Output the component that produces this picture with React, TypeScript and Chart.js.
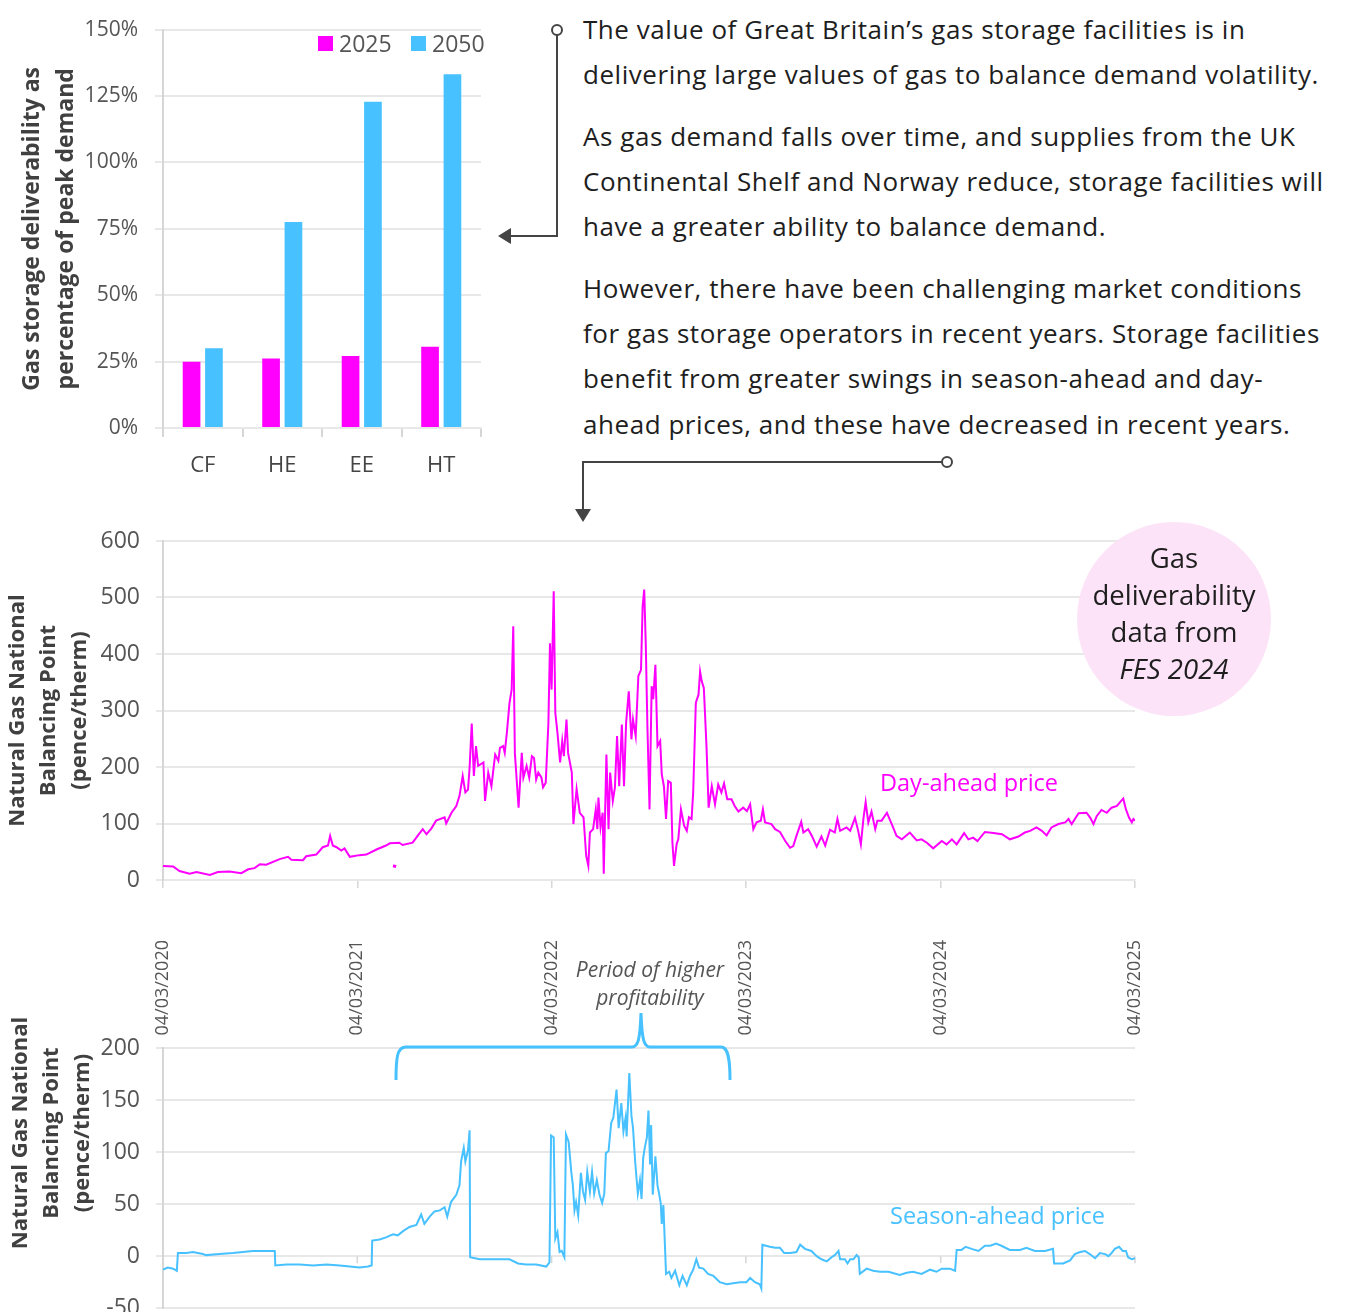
import React, { useEffect, useRef } from "react";
import { Chart, registerables } from "chart.js";

Chart.register(...registerables);

const FONT = '"Open Sans", "DejaVu Sans", sans-serif';
const MAGENTA = "#FF00FF";
const BLUE = "#47C1FF";
const GRID = "#e8e8e8";
const AXIS = "#d6d6d6";
const TICK_TEXT = "#555555";
const TITLE_TEXT = "#404040";
const BODY_TEXT = "#1e1e1e";
const CONNECTOR = "#444444";

Chart.defaults.font.family = FONT;

// ---------- Bar chart data ----------
const barCategories = ["CF", "HE", "EE", "HT"];
const barSeriesLabels = ["2025", "2050"];
const deliverability2025 = [24.9, 26.2, 27.1, 30.6];
const deliverability2050 = [30.0, 77.6, 122.8, 133.2];

// ---------- Time axis (days since 04/03/2020) ----------
const xTickDays = [0, 365, 730, 1095, 1461, 1826];
const xTickLabels = ["04/03/2020", "04/03/2021", "04/03/2022", "04/03/2023", "04/03/2024", "04/03/2025"];

// ---------- Day-ahead price (pence/therm) ----------
const dayAheadDays = [
  0, 19, 31, 50, 63, 88, 103, 125, 147, 160, 172, 182, 194, 219, 235, 241, 263, 269, 288, 300,
  310, 314, 319, 326, 335, 341, 351, 369, 382, 401, 419, 426, 444, 450, 469, 479, 488, 495, 504, 513,
  529, 532, 542, 551, 557, 563, 568, 573, 576, 580, 584, 588, 592,
  602, 605, 611, 617, 624, 630, 633, 639, 642, 646, 651, 655, 658, 661, 668, 674, 677, 683, 688, 693,
  697, 701, 705, 711, 714, 719, 724, 727, 730, 734, 737, 741, 746, 750, 753, 758, 761, 768, 771, 777,
  783, 790, 795, 799, 802, 808, 813, 816, 818, 822, 826, 828, 833, 837, 840, 845, 849, 853, 857, 862,
  866, 870, 875, 880, 883, 888, 893, 898, 901, 904, 907, 910, 914, 918, 921, 925, 929, 934, 937, 941,
  945, 949, 954, 957, 960, 965, 968, 973, 979, 984, 988, 993, 996, 1001, 1006, 1009, 1012, 1016, 1021, 1025,
  1031, 1037, 1043, 1049, 1054, 1060, 1068, 1074, 1081,
  1090, 1097, 1103, 1109, 1115, 1123, 1127, 1131, 1143, 1150, 1159, 1169, 1178, 1184, 1190, 1199, 1203, 1212, 1219, 1228,
  1237, 1244, 1253, 1262, 1267, 1272, 1284, 1291, 1300, 1306, 1311, 1316, 1320, 1325, 1331, 1338, 1342, 1350, 1360, 1369,
  1378, 1388, 1403, 1416, 1425, 1435, 1447, 1463, 1472, 1482, 1491, 1505, 1513, 1522, 1530, 1544, 1560, 1576, 1591, 1607,
  1619, 1629, 1641, 1651, 1660, 1669, 1682, 1695, 1701, 1707, 1720, 1735, 1742, 1748, 1754, 1763, 1773, 1782, 1792, 1800,
  1804, 1809, 1815, 1820, 1823, 1826,
];
const dayAheadPrice = [
  25, 24, 16, 11, 14, 9, 14, 15, 12, 19, 21, 28, 27, 37, 41, 36, 35, 42, 45, 58,
  61, 78, 61, 58, 52, 56, 41, 44, 45, 54, 61, 65, 66, 62, 66, 79, 90, 81, 91, 105,
  111, 100, 119, 131, 149, 184, 155, 160, 199, 277, 184, 237, 202,
  208, 140, 190, 166, 222, 211, 234, 237, 225, 261, 314, 337, 449, 225, 128, 225, 181, 202, 181, 219,
  216, 178, 190, 181, 164, 172, 278, 419, 337, 511, 296, 261, 208, 246, 219, 284, 225, 190, 99, 161,
  119, 111, 43, 25, 84, 90, 125, 90, 146, 93, 119, 11, 222, 90, 190, 140, 164, 255, 166, 275,
  166, 278, 334, 249, 284, 255, 361, 372, 484, 514, 414, 272, 125, 343, 320, 381, 237, 246, 187, 166,
  108, 175, 172, 66, 25, 64, 72, 125, 96, 87, 111, 108, 155, 314, 328, 369, 352, 340, 237, 128,
  166, 134, 169, 155, 171, 143, 143, 131, 121,
  128, 122, 134, 90, 102, 105, 125, 102, 99, 90, 85, 69, 57, 60, 78, 103, 84, 90, 78, 59,
  77, 61, 89, 84, 108, 87, 93, 87, 110, 87, 63, 110, 138, 102, 121, 90, 105, 105, 119, 99,
  78, 72, 84, 70, 72, 66, 56, 69, 63, 72, 63, 83, 72, 75, 69, 85, 83, 81, 72, 77,
  84, 87, 93, 87, 79, 93, 99, 102, 108, 99, 118, 119, 110, 99, 113, 124, 119, 128, 131, 140,
  144, 125, 110, 102, 108, 105,
];
const dayAheadOutlierDays = [432, 438];
const dayAheadOutlierPrice = [25, 24];

// ---------- Season-ahead price (pence/therm) ----------
const seasonAheadDays = [
  0, 9, 19, 26, 28, 44, 56, 75, 81, 106, 131, 150, 169, 188, 210, 211, 232, 257, 282, 307,
  332, 351, 369, 385, 392, 393, 407, 419, 432, 441, 451, 463, 476, 485, 491, 501, 510, 520, 529, 534,
  541, 551, 557, 560, 565, 568, 573, 576, 577, 595, 620, 651, 667, 682, 701, 720, 726, 729, 734, 737,
  741, 745, 749, 754, 757, 762, 767, 770, 773, 776, 780, 785, 789, 793, 797, 802, 806, 810, 815, 820,
  825, 829, 832, 837, 842, 846, 852, 856, 861, 865, 869, 871, 876, 880, 883, 887, 892, 896, 899,
  902, 905, 909, 912, 915, 917, 920, 922, 925, 929, 932, 935, 937, 940, 945, 951, 955, 962, 970, 976,
  984, 990, 996, 1002, 1007, 1015, 1024, 1034, 1046, 1059, 1071, 1084, 1096, 1103, 1112, 1121, 1124, 1126, 1140, 1150,
  1159, 1167, 1178, 1190, 1197, 1206, 1218, 1228, 1237, 1247, 1256, 1262, 1269, 1272, 1281, 1286, 1291, 1297, 1303, 1307,
  1309, 1322, 1334, 1347, 1363, 1384, 1397, 1409, 1425, 1441, 1453, 1463, 1478, 1488, 1491, 1500, 1508, 1519, 1532, 1544,
  1554, 1565, 1575, 1591, 1610, 1622, 1638, 1657, 1672, 1674, 1691, 1704, 1713, 1723, 1732, 1741, 1751, 1760, 1770, 1776,
  1782, 1788, 1796, 1803, 1809, 1813, 1820, 1826,
];
const seasonAheadPrice = [
  -13, -11, -12, -14, 3, 3, 4, 2, 1, 2, 3, 4, 5, 5, 5, -9, -8, -8, -9, -8,
  -9, -10, -11, -10, -9, 15, 16, 18, 21, 20, 24, 28, 30, 40, 31, 38, 43, 44, 47, 38,
  52, 59, 68, 91, 104, 91, 102, 121, -1, -3, -3, -3, -7, -8, -8, -10, -6, 116, 114, 17,
  23, 4, 5, -1, 117, 110, 81, 68, 44, 52, 39, 80, 62, 54, 81, 62, 81, 60, 73, 59,
  51, 60, 99, 101, 128, 133, 160, 123, 147, 120, 133, 115, 176, 135, 123, 91, 60, 73, 55,
  94, 104, 114, 140, 88, 126, 59, 73, 96, 68, 60, 51, 31, 49, -17, -15, -21, -14, -28, -19,
  -28, -19, -13, -3, -11, -12, -17, -19, -25, -27, -26, -25, -25, -21, -25, -27, -31, 11, 9, 8,
  8, 3, 3, 4, 11, 7, 5, 0, -3, -5, -1, 1, 5, -3, -3, -7, -3, -3, 1, -1,
  -17, -12, -14, -15, -15, -18, -16, -15, -17, -13, -15, -12, -12, -14, 6, 6, 9, 7, 5, 10,
  10, 12, 10, 6, 6, 8, 5, 5, 7, -7, -7, -4, 2, 4, 5, 2, -2, 3, 2, 0,
  3, 7, 9, 5, 5, -1, -3, -2,
];

const toPoints = (xs: number[], ys: number[]) => xs.map((x, i) => ({ x, y: ys[i] }));

const timeAxisTicks = (scale: any) => {
  scale.ticks = xTickDays.map((v) => ({ value: v }));
};

// small tick marks on the zero line of the season-ahead chart, at the yearly ticks
const zeroLineTicks = {
  id: "zeroLineTicks",
  beforeDatasetsDraw(chart: any) {
    const { ctx, scales } = chart;
    const x = scales.x;
    const y = scales.y;
    const y0 = y.getPixelForValue(0);
    ctx.save();
    ctx.strokeStyle = AXIS;
    ctx.lineWidth = 1.5;
    xTickDays.forEach((d) => {
      const px = x.getPixelForValue(d);
      ctx.beginPath();
      ctx.moveTo(px, y0);
      ctx.lineTo(px, y0 + 7);
      ctx.stroke();
    });
    ctx.restore();
  },
};

function makeBarConfig(): any {
  return {
    type: "bar",
    data: {
      labels: barCategories,
      datasets: [
        { label: barSeriesLabels[0], data: deliverability2025, backgroundColor: MAGENTA, barPercentage: 0.79, categoryPercentage: 0.563 },
        { label: barSeriesLabels[1], data: deliverability2050, backgroundColor: BLUE, barPercentage: 0.79, categoryPercentage: 0.563 },
      ],
    },
    options: {
      responsive: false,
      animation: false,
      layout: { padding: { left: 0, top: 24, right: 19, bottom: 0 } },
      plugins: { legend: { display: false }, tooltip: { enabled: false } },
      scales: {
        x: {
          grid: { display: true, drawOnChartArea: false, drawTicks: true, tickLength: 9, color: AXIS, lineWidth: 2, offset: true },
          border: { display: true, color: GRID, width: 2 },
          ticks: { font: { family: FONT, size: 22 }, color: "#444", padding: 16 },
          afterFit: (s: any) => { s.height = 62; },
        },
        y: {
          min: 0,
          max: 150,
          ticks: { stepSize: 25, callback: (v: any) => v + "%", font: { family: FONT, size: 21 }, color: TICK_TEXT, padding: 17 },
          grid: { color: GRID, lineWidth: 2, tickLength: 8 },
          border: { display: true, color: AXIS, width: 2 },
          title: {
            display: true,
            text: ["Gas storage deliverability as", "percentage of peak demand"],
            font: { family: FONT, size: 23, weight: "bold", lineHeight: 1.5 },
            color: TITLE_TEXT,
            padding: { top: 15, bottom: 0 },
          },
          afterFit: (s: any) => { s.width = 163; },
        },
      },
    },
  };
}

function makeDayAheadConfig(): any {
  return {
    type: "line",
    data: {
      datasets: [
        { label: "Day-ahead price", data: toPoints(dayAheadDays, dayAheadPrice), borderColor: MAGENTA, borderWidth: 2, pointRadius: 0, tension: 0 },
        { label: "Day-ahead price (isolated)", data: toPoints(dayAheadOutlierDays, dayAheadOutlierPrice), borderColor: MAGENTA, borderWidth: 3, pointRadius: 0, tension: 0 },
      ],
    },
    options: {
      responsive: false,
      animation: false,
      layout: { padding: { left: 0, top: 41, right: 215, bottom: 0 } },
      plugins: { legend: { display: false }, tooltip: { enabled: false } },
      scales: {
        x: {
          type: "linear",
          min: 0,
          max: 1826,
          afterBuildTicks: timeAxisTicks,
          ticks: {
            autoSkip: false,
            minRotation: 90,
            maxRotation: 90,
            callback: (_v: any, i: number) => xTickLabels[i],
            font: { family: FONT, size: 18 },
            color: TICK_TEXT,
            padding: 52,
          },
          grid: { display: true, drawOnChartArea: false, drawTicks: true, tickLength: 8, color: AXIS, lineWidth: 1.5 },
          border: { display: true, color: GRID, width: 2 },
          afterFit: (s: any) => { s.height = 165; },
        },
        y: {
          min: 0,
          max: 600,
          ticks: { stepSize: 100, font: { family: FONT, size: 23 }, color: TICK_TEXT, padding: 16 },
          grid: { color: GRID, lineWidth: 2, tickLength: 7 },
          border: { display: true, color: AXIS, width: 2 },
          title: {
            display: true,
            text: ["Natural Gas National", "Balancing Point", "(pence/therm)"],
            font: { family: FONT, size: 22, weight: "bold", lineHeight: 1.41 },
            color: TITLE_TEXT,
            padding: { top: 2.5, bottom: 0 },
          },
          afterFit: (s: any) => { s.width = 163; },
        },
      },
    },
  };
}

function makeSeasonAheadConfig(): any {
  return {
    type: "line",
    data: {
      datasets: [
        { label: "Season-ahead price", data: toPoints(seasonAheadDays, seasonAheadPrice), borderColor: BLUE, borderWidth: 2, pointRadius: 0, tension: 0 },
      ],
    },
    plugins: [zeroLineTicks],
    options: {
      responsive: false,
      animation: false,
      layout: { padding: { left: 0, top: 48, right: 215, bottom: 12 } },
      plugins: { legend: { display: false }, tooltip: { enabled: false } },
      scales: {
        x: { type: "linear", min: 0, max: 1826, display: false },
        y: {
          min: -50,
          max: 200,
          ticks: { stepSize: 50, font: { family: FONT, size: 23 }, color: TICK_TEXT, padding: 16 },
          grid: { color: GRID, lineWidth: 2, tickLength: 7 },
          border: { display: true, color: AXIS, width: 2 },
          afterFit: (s: any) => { s.width = 163; },
        },
      },
    },
  };
}

function ChartCanvas({ left, top, width, height, make }: any) {
  const ref = useRef<HTMLCanvasElement>(null);
  useEffect(() => {
    const chart = new Chart(ref.current as HTMLCanvasElement, make());
    return () => chart.destroy();
  }, []);
  return (
    <canvas
      ref={ref}
      width={width}
      height={height}
      style={{ position: "absolute", left, top, width, height, display: "block" }}
    />
  );
}

function Line({ cy, text, left = 583 }: any) {
  return (
    <div
      style={{
        position: "absolute",
        left,
        top: cy - 18,
        height: 36,
        lineHeight: "36px",
        fontSize: 26,
        letterSpacing: "0.55px",
        color: BODY_TEXT,
        whiteSpace: "nowrap",
      }}
    >
      {text}
    </div>
  );
}

function CenterText({ cx, cy, text, size, color, italic }: any) {
  return (
    <div
      style={{
        position: "absolute",
        left: cx - 150,
        top: cy - 18,
        width: 300,
        height: 36,
        lineHeight: "36px",
        textAlign: "center",
        fontSize: size,
        color,
        fontStyle: italic ? "italic" : "normal",
        whiteSpace: "nowrap",
      }}
    >
      {text}
    </div>
  );
}

function VText({ cx, cy, text }: any) {
  return (
    <div
      style={{
        position: "absolute",
        left: cx - 200,
        top: cy - 15,
        width: 400,
        height: 30,
        lineHeight: "30px",
        textAlign: "center",
        transform: "rotate(-90deg)",
        fontSize: 22,
        fontWeight: 700,
        color: TITLE_TEXT,
        whiteSpace: "nowrap",
      }}
    >
      {text}
    </div>
  );
}

export default function App() {
  return (
    <div
      style={{
        position: "fixed",
        left: 0,
        top: 0,
        width: 1350,
        height: 1312,
        overflow: "hidden",
        background: "#ffffff",
        fontFamily: FONT,
      }}
    >
      <ChartCanvas left={0} top={0} width={500} height={490} make={makeBarConfig} />
      <ChartCanvas left={0} top={500} width={1350} height={545} make={makeDayAheadConfig} />
      <ChartCanvas left={0} top={1000} width={1350} height={338} make={makeSeasonAheadConfig} />

      {/* bar legend */}
      <div style={{ position: "absolute", left: 318, top: 36, width: 15, height: 15, background: MAGENTA }} />
      <div style={{ position: "absolute", left: 339, top: 29, lineHeight: "28px", fontSize: 23, color: TICK_TEXT }}>{barSeriesLabels[0]}</div>
      <div style={{ position: "absolute", left: 411, top: 36, width: 15, height: 15, background: BLUE }} />
      <div style={{ position: "absolute", left: 432, top: 29, lineHeight: "28px", fontSize: 23, color: TICK_TEXT }}>{barSeriesLabels[1]}</div>

      {/* paragraphs */}
      <Line cy={29} text="The value of Great Britain’s gas storage facilities is in" />
      <Line cy={74} text="delivering large values of gas to balance demand volatility." />
      <Line cy={136} text="As gas demand falls over time, and supplies from the UK" />
      <Line cy={181} text="Continental Shelf and Norway reduce, storage facilities will" />
      <Line cy={226} text="have a greater ability to balance demand." />
      <Line cy={288} text="However, there have been challenging market conditions" />
      <Line cy={333} text="for gas storage operators in recent years. Storage facilities" />
      <Line cy={378} text="benefit from greater swings in season-ahead and day-" />
      <Line cy={424} text="ahead prices, and these have decreased in recent years." />

      {/* circle note */}
      <div
        style={{
          position: "absolute",
          left: 1077,
          top: 522,
          width: 194,
          height: 194,
          borderRadius: "50%",
          background: "#FCE3F8",
        }}
      />
      <CenterText cx={1174} cy={558} text="Gas" size={27.5} color={BODY_TEXT} />
      <CenterText cx={1174} cy={595} text="deliverability" size={27.5} color={BODY_TEXT} />
      <CenterText cx={1174} cy={632} text="data from" size={27.5} color={BODY_TEXT} />
      <CenterText cx={1174} cy={669} text="FES 2024" size={27.5} color={BODY_TEXT} italic />

      {/* series labels */}
      <div style={{ position: "absolute", left: 880, top: 768, lineHeight: "28px", fontSize: 23.5, color: MAGENTA, whiteSpace: "nowrap" }}>Day-ahead price</div>
      <div style={{ position: "absolute", left: 890, top: 1201, lineHeight: "28px", fontSize: 23.5, color: BLUE, whiteSpace: "nowrap" }}>Season-ahead price</div>

      {/* period annotation */}
      <CenterText cx={650} cy={969} text="Period of higher" size={21} color={TICK_TEXT} italic />
      <CenterText cx={650} cy={997} text="profitability" size={21} color={TICK_TEXT} italic />

      {/* bottom chart y title */}
      <VText cx={18} cy={1133} text="Natural Gas National" />
      <VText cx={49} cy={1133} text="Balancing Point" />
      <VText cx={80} cy={1133} text="(pence/therm)" />

      <svg width={1350} height={1312} style={{ position: "absolute", left: 0, top: 0, pointerEvents: "none" }}>
        <circle cx={557} cy={30} r={5} fill="#fff" stroke={CONNECTOR} strokeWidth={2} />
        <polyline points="557,35 557,236 510,236" fill="none" stroke={CONNECTOR} strokeWidth={2} />
        <polygon points="498,236 511,228 511,244" fill={CONNECTOR} />
        <circle cx={947} cy={462} r={5} fill="#fff" stroke={CONNECTOR} strokeWidth={2} />
        <polyline points="942,462 583,462 583,510" fill="none" stroke={CONNECTOR} strokeWidth={2} />
        <polygon points="583,522 575,509 591,509" fill={CONNECTOR} />
        <path
          d="M 396 1080 C 396 1058, 397 1047, 406 1047 L 632 1047 C 638 1047, 640 1040, 641 1013 C 642 1040, 644 1047, 650 1047 L 721 1047 C 728 1047, 730 1058, 730 1080"
          fill="none"
          stroke={BLUE}
          strokeWidth={3}
        />
      </svg>
    </div>
  );
}
